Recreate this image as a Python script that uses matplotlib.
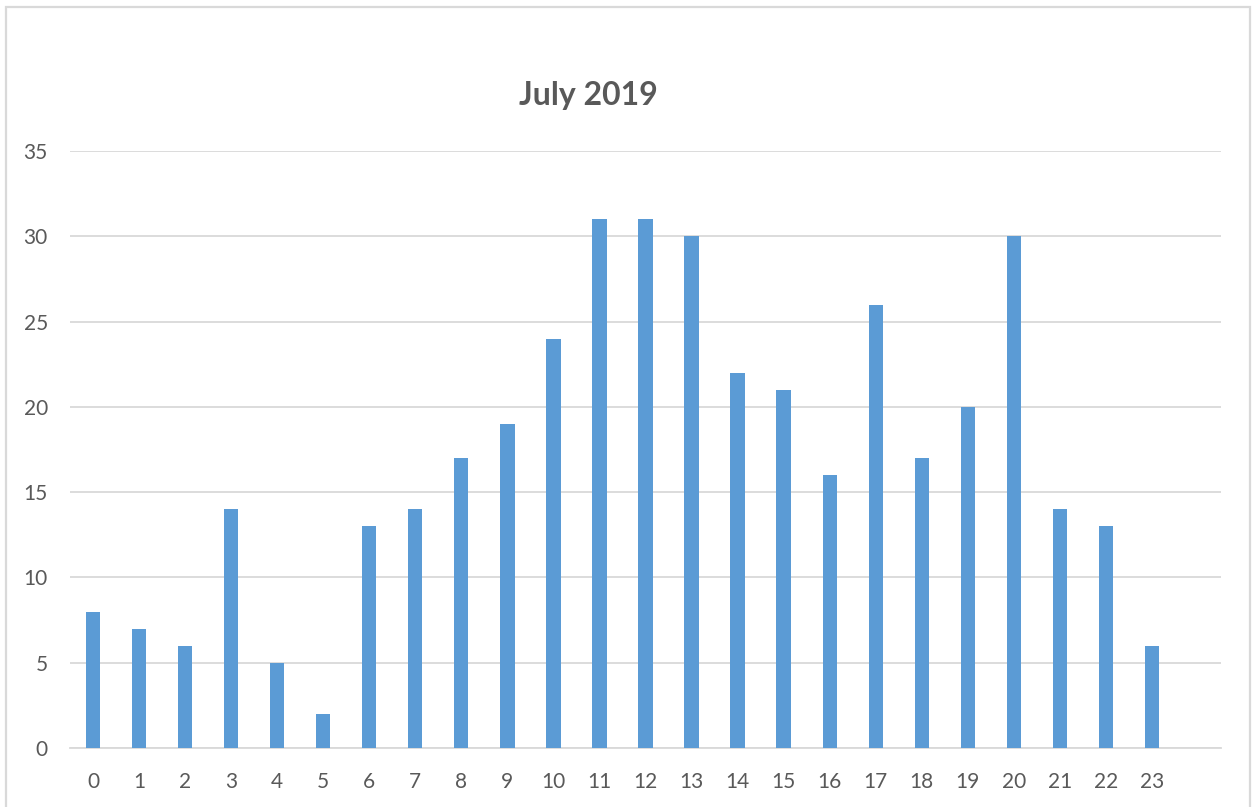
import matplotlib
matplotlib.use("Agg")
import matplotlib.pyplot as plt
from matplotlib.patches import Rectangle

hours = [str(h) for h in range(24)]
counts = [8, 7, 6, 14, 5, 2, 13, 14, 17, 19, 24, 31, 31, 30, 22, 21, 16, 26, 17, 20, 30, 14, 13, 6]
yticks = [0, 5, 10, 15, 20, 25, 30, 35]
title = "July 2019"

plt.rcParams['font.family'] = ['Lato', 'DejaVu Sans']

W, H = 1253, 807
fig = plt.figure(figsize=(W / 100, H / 100), dpi=100)
fig.patch.set_facecolor('white')

# outer chart border
fig.patches.append(Rectangle((6 / W, -0.02), (1250 - 6) / W, 1 - 7 / H + 0.02,
                             transform=fig.transFigure, fill=False,
                             edgecolor='#d9d9d9', linewidth=1.6))

ax = fig.add_axes([70 / W, (H - 748) / H, (1221 - 70) / W, (748 - 151) / H])
x = list(range(len(hours)))
ax.bar(x, counts, width=0.31, color='#5b9bd5', zorder=3)

ax.set_xlim(-0.5, 24.5)
ax.set_ylim(0, 35)
ax.set_yticks(yticks)
ax.set_yticklabels([str(v) for v in yticks])
ax.set_xticks(x)
ax.set_xticklabels(hours)

ax.grid(axis='y', color='#d9d9d9', linewidth=1.3, zorder=0)
ax.grid(axis='x', visible=False)
for s in ['top', 'right', 'left']:
    ax.spines[s].set_visible(False)
ax.spines['bottom'].set_color('#d9d9d9')
ax.spines['bottom'].set_linewidth(1.3)

ax.tick_params(axis='both', length=0, labelsize=15, labelcolor='#595959')
ax.tick_params(axis='y', pad=16)
ax.tick_params(axis='x', pad=17)

fig.text(588 / W, 1 - 95 / H, title, ha='center', va='center',
         fontsize=23, fontweight='bold', color='#595959')

fig.savefig('out.png', dpi=100, facecolor='white')
